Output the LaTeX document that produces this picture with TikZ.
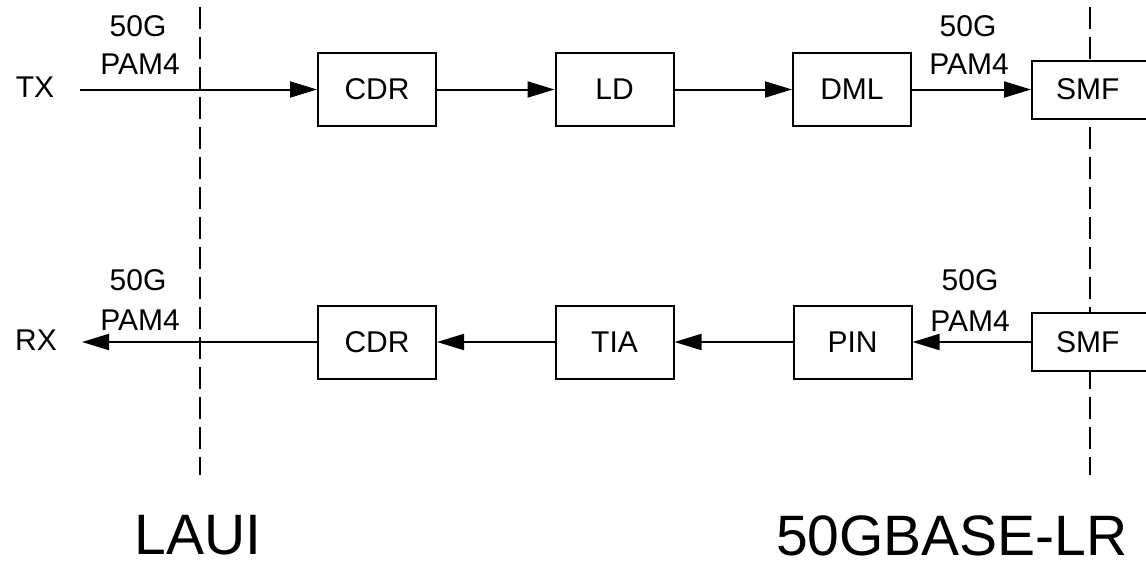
\documentclass[tikz,border=0pt]{standalone}
\usepackage{fontspec}
\setmainfont{Liberation Sans}
\usetikzlibrary{arrows.meta}
\begin{document}
\begin{tikzpicture}[x=1pt,y=-1pt,
  blk/.style={draw, line width=2pt, fill=white, minimum width=118pt, minimum height=73pt, inner sep=0pt, font=\fontsize{30}{30}\selectfont},
  smfbox/.style={draw, line width=2pt, fill=white, anchor=west, minimum height=58pt, text width=110pt, align=left, inner xsep=24pt, inner ysep=0pt, font=\fontsize{30}{30}\selectfont},
  lbl/.style={inner sep=0pt, font=\fontsize{30}{30}\selectfont},
  big/.style={inner sep=0pt, font=\fontsize{57}{57}\selectfont},
  sig/.style={line width=2pt, -{Triangle[length=27pt,width=16pt]}},
  bnd/.style={line width=2pt, dash pattern=on 22pt off 8pt}]
\useasboundingbox (0,0) rectangle (1146,565);
\clip (0,0) rectangle (1146,565);
% boundaries
\coordinate (lt) at (200,7);
\coordinate (lb) at (200,475);
\coordinate (rt) at (1090,7);
\coordinate (rb) at (1090,475);
\draw[bnd] (lt) -- (lb);
\draw[bnd] (rt) -- (rb);
% top row
\node[lbl] (tx) at (35,87) {TX};
\coordinate (txs) at (80,89.5);
\node[blk] (cdr1) at (377,89.5) {CDR};
\node[blk] (ld) at (614.5,89.5) {LD};
\node[blk] (dml) at (852,89.5) {DML};
\node[smfbox] (smf1) at (1031,89.5) {SMF};
% bottom row
\node[lbl] (rx) at (36,340) {RX};
\coordinate (rxe) at (82,342);
\node[blk] (cdr2) at (377,342) {CDR};
\node[blk] (tia) at (614.5,342) {TIA};
\node[blk] (pin) at (852.5,342) {PIN};
\node[smfbox] (smf2) at (1031,342) {SMF};
% connectors
\draw[sig] (txs) -- (cdr1.west);
\draw[sig] (cdr1) -- (ld);
\draw[sig] (ld) -- (dml);
\draw[sig] (dml.east) -- (smf1.west);
\draw[sig] (smf2.west) -- (pin.east);
\draw[sig] (pin) -- (tia);
\draw[sig] (tia) -- (cdr2);
\draw[sig] (cdr2.west) -- (rxe);
% labels
\node[lbl] (l1a) at (138,26) {50G};
\node[lbl] (l1b) at (140,64) {PAM4};
\node[lbl] (l2a) at (968,26) {50G};
\node[lbl] (l2b) at (969,64) {PAM4};
\node[lbl] (l3a) at (138,280) {50G};
\node[lbl] (l3b) at (140,320) {PAM4};
\node[lbl] (l4a) at (970,280) {50G};
\node[lbl] (l4b) at (970,321) {PAM4};
\node[big] (laui) at (198,535.5) {LAUI};
\node[big] (lr) at (952,535.5) {50GBASE-LR};
\end{tikzpicture}
\end{document}
